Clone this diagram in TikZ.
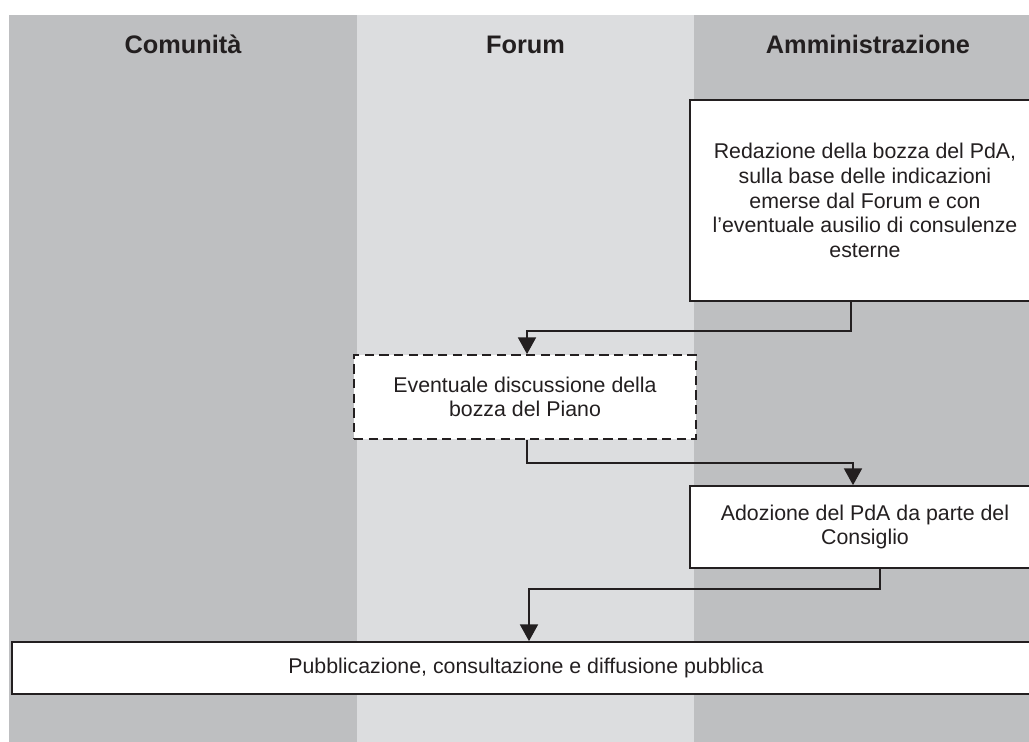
\documentclass[tikz,border=0pt]{standalone}
\usepackage{fontspec}
\setmainfont{Liberation Sans}
\usetikzlibrary{positioning,arrows.meta}
\definecolor{laneDark}{HTML}{BEBFC1}
\definecolor{laneLight}{HTML}{DCDDDF}
\definecolor{ink}{HTML}{231F20}
\tikzset{
  lane title/.style={font=\fontsize{19}{22}\selectfont\bfseries, text=ink, anchor=base},
  task/.style={draw=ink, line width=1.3pt, fill=white, align=center, text=ink,
               font=\fontsize{16}{18.5}\selectfont, inner sep=0pt},
  optional task/.style={task, dash pattern=on 7pt off 4pt},
  flow/.style={draw=ink, line width=1.1pt, -{Triangle[length=12.5pt,width=13.5pt]}},
}

\begin{document}
\begin{tikzpicture}[x=0.75pt,y=-0.75pt]
\useasboundingbox (0,0) rectangle (1029,742);
% swim lanes
\fill[laneDark]  (9,15)   rectangle (357,742);
\fill[laneLight] (357,15) rectangle (694,742);
\fill[laneDark]  (694,15) rectangle (1040,742);
\node[lane title] (hCom) at (183,54)   {Comunità};
\node[lane title] (hFor) at (525.5,54) {Forum};
\node[lane title] (hAmm) at (868,54)   {Amministrazione};

% steps
\node[task, minimum width=262.5pt, minimum height=150.75pt] (red) at (865,200.5)
      {Redazione della bozza del PdA,\\sulla base delle indicazioni\\emerse dal Forum e con\\l'eventuale ausilio di consulenze\\esterne};
\node[optional task, minimum width=256.5pt, minimum height=63pt] (disc) at (525,397)
      {Eventuale discussione della\\bozza del Piano};
\node[task, minimum width=262.5pt, minimum height=61.5pt] (ado) at (865,527)
      {Adozione del PdA da parte del\\Consiglio};
\node[task, minimum width=771pt, minimum height=39pt] (pub) at (526,668)
      {Pubblicazione, consultazione e diffusione pubblica};

% connectors
\draw[flow] ([xshift=-10.5pt]red.south) -- ++(0,29) -| ([xshift=1.5pt]disc.north);
\draw[flow] ([xshift=1.5pt]disc.south) -- ++(0,23) -| ([xshift=-9pt]ado.north);
\draw[flow] ([xshift=11.25pt]ado.south) -- ++(0,20) -| ([xshift=2.25pt]pub.north);
\end{tikzpicture}
\end{document}
